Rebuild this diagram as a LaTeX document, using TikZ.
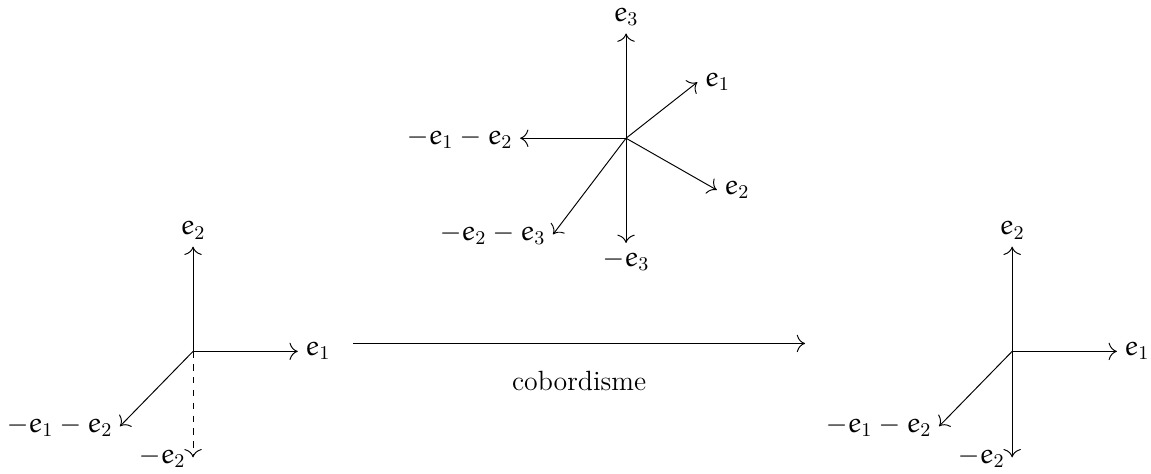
\RequirePackage{fix-cm}
\documentclass[tikz,border=0pt]{standalone}
\usepackage{amsmath,amsfonts}
\usepackage{tikz}
\usetikzlibrary{calc,arrows.meta}
\DeclareMathAlphabet{\matheur}{U}{eur}{m}{n}
\newcommand{\ee}{\matheur{e}}

\begin{document}
\begin{tikzpicture}[
every node/.style={font=\fontsize{13}{16}\selectfont},
vec/.style={-{To[scale=1.5]}, line width=0.45pt},
dvec/.style={-{To[scale=1.5]}, dashed, line width=0.45pt}
]
\useasboundingbox (0,0) rectangle (18.9,7.77);
% left frame
\coordinate (L) at (3.17,2.00);
\coordinate (L1) at ($(L)+(1.72,0)$);
\coordinate (L2) at ($(L)+(0,1.72)$);
\coordinate (L3) at ($(L)+(-1.2,-1.23)$);
\coordinate (L4) at ($(L)+(0,-1.74)$);
\node[right] (lL1) at (L1) {$\ee_1$};
\node[above] (lL2) at (L2) {$\ee_2$};
\node[left] (lL3) at (L3) {$-\ee_1-\ee_2$};
\node[left] (lL4) at (L4) {$-\ee_2$};
\draw[vec] (L) -- (L1);
\draw[vec] (L) -- (L2);
\draw[vec] (L) -- (L3);
\draw[dvec] (L) -- (L4);
% top star
\coordinate (T) at (10.28,5.50);
\coordinate (T1) at ($(T)+(1.17,0.92)$);
\coordinate (T2) at ($(T)+(1.49,-0.85)$);
\coordinate (T3) at ($(T)+(0,1.72)$);
\coordinate (T4) at ($(T)+(-1.74,0)$);
\coordinate (T5) at ($(T)+(-1.2,-1.58)$);
\coordinate (T6) at ($(T)+(0,-1.72)$);
\node[right] (lT1) at (T1) {$\ee_1$};
\node[right] (lT2) at (T2) {$\ee_2$};
\node[above] (lT3) at (T3) {$\ee_3$};
\node[left] (lT4) at (T4) {$-\ee_1-\ee_2$};
\node[left] (lT5) at (T5) {$-\ee_2-\ee_3$};
\node[below] (lT6) at (T6) {$-\ee_3$};
\draw[vec] (T) -- (T1);
\draw[vec] (T) -- (T2);
\draw[vec] (T) -- (T3);
\draw[vec] (T) -- (T4);
\draw[vec] (T) -- (T5);
\draw[vec] (T) -- (T6);
% right frame
\coordinate (R) at (16.62,2.00);
\coordinate (R1) at ($(R)+(1.72,0)$);
\coordinate (R2) at ($(R)+(0,1.72)$);
\coordinate (R3) at ($(R)+(-1.2,-1.23)$);
\coordinate (R4) at ($(R)+(0,-1.74)$);
\node[right] (lR1) at (R1) {$\ee_1$};
\node[above] (lR2) at (R2) {$\ee_2$};
\node[left] (lR3) at (R3) {$-\ee_1-\ee_2$};
\node[left] (lR4) at (R4) {$-\ee_2$};
\draw[vec] (R) -- (R1);
\draw[vec] (R) -- (R2);
\draw[vec] (R) -- (R3);
\draw[vec] (R) -- (R4);
% cobordism arrow
\coordinate (c0) at (5.80,2.13);
\coordinate (c1) at (13.22,2.13);
\draw[vec] (c0) -- node[below=0.33cm] (cob) {cobordisme} (c1);
\end{tikzpicture}
\end{document}
